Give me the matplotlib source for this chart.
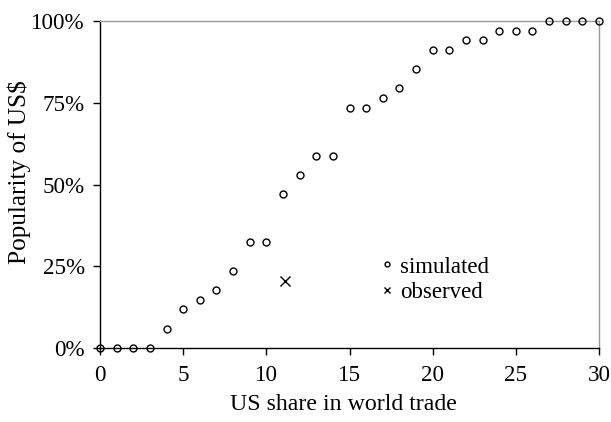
import numpy as np
import matplotlib.pyplot as plt
from matplotlib.ticker import FuncFormatter

# simulated popularity of US$ (in %) against US share in world trade
share = np.arange(0, 31)
popularity = [0, 0, 0, 0, 5.9, 11.8, 14.7, 17.6, 23.5, 32.4, 32.4,
              47.1, 52.9, 58.8, 58.8, 73.5, 73.5, 76.5, 79.4, 85.3, 91.2,
              91.2, 94.1, 94.1, 97.1, 97.1, 97.1, 100, 100, 100, 100]

# observed value
obs_share = [11.1]
obs_popularity = [20.5]

y_ticks = [0, 25, 50, 75, 100]
x_ticks = [0, 5, 10, 15, 20, 25, 30]

plt.rcParams['font.family'] = ['Liberation Serif', 'DejaVu Serif']

fig = plt.figure(figsize=(6.11, 4.22), dpi=100)
ax = fig.add_axes([0.1637, 0.1754, 0.8167, 0.7746])

ax.plot(share, popularity, 'o', mfc='none', mec='black', ms=5, mew=1,
        clip_on=False, zorder=3, label='simulated')
ax.plot(obs_share, obs_popularity, 'x', color='black', ms=7, mew=1,
        clip_on=False, zorder=3, label='observed')

ax.set_xlim(0, 30)
ax.set_ylim(0, 100)
ax.set_xticks(x_ticks)
ax.set_yticks(y_ticks)
ax.yaxis.set_major_formatter(FuncFormatter(lambda v, p: '%d%%' % v))
ax.tick_params(labelsize=16.6, direction='out', length=5, width=1, color='black')
ax.tick_params(axis='x', pad=7)
ax.tick_params(axis='y', pad=6)

for s in ['left', 'bottom']:
    ax.spines[s].set_color('black')
    ax.spines[s].set_linewidth(1)
for s in ['top', 'right']:
    ax.spines[s].set_color('#999999')
    ax.spines[s].set_linewidth(1)

ax.set_xlabel('US share in world trade', fontsize=17.2)
ax.set_ylabel('Popularity of US$', fontsize=18.2)
ax.xaxis.set_label_coords(0.488, -0.142)
ax.yaxis.set_label_coords(-0.138, 0.537)

leg = ax.legend(loc='upper left', bbox_to_anchor=(0.541, 0.315), frameon=False,
                fontsize=16.5, handlelength=0.5, handletextpad=0.3,
                labelspacing=0.2, markerscale=0.7, borderpad=0)

fig.savefig('out.png', dpi=100)
